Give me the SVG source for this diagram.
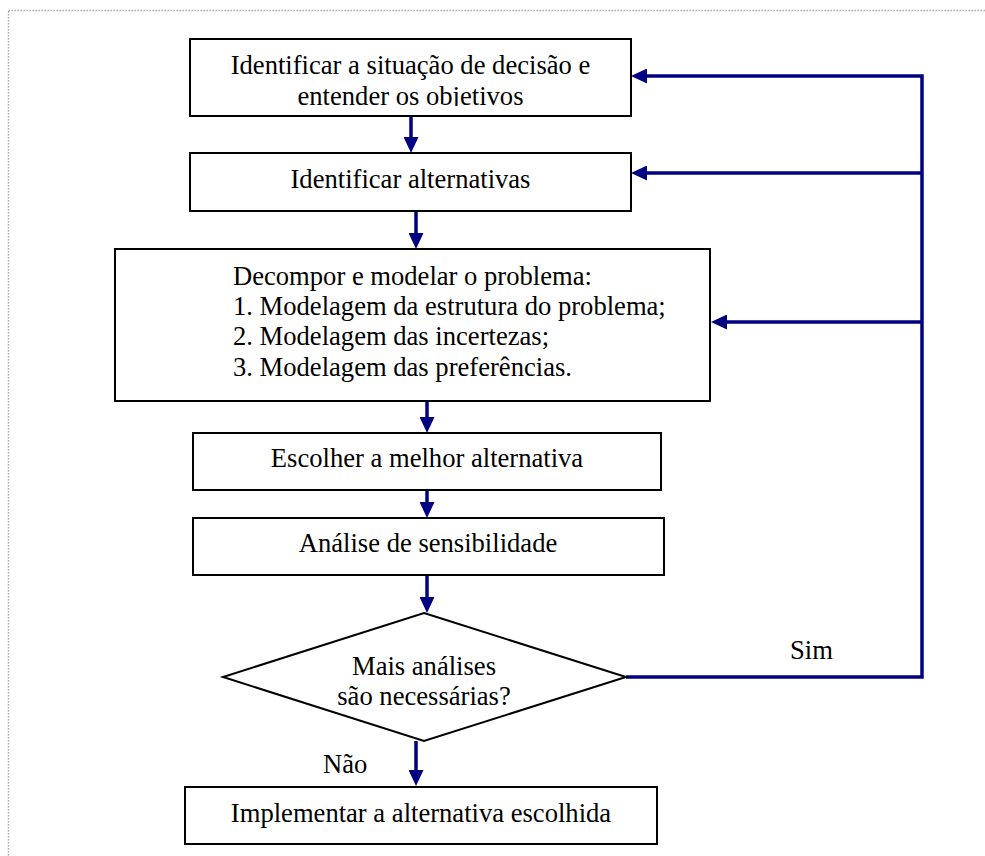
<svg xmlns="http://www.w3.org/2000/svg" width="985" height="856" viewBox="0 0 985 856">
  <style>
    .box { fill: #ffffff; stroke: #000000; stroke-width: 2; }
    .lbl { font-family: "Liberation Serif", "Times New Roman", serif; font-size: 26.6px; fill: #000000; }
    .mid { text-anchor: middle; }
    .conn { fill: none; stroke: #000080; stroke-width: 3.5; stroke-linejoin: miter; }
    .frame { fill: none; stroke: #999999; stroke-width: 1.5; stroke-dasharray: 1.3 1.7; }
  </style>
  <defs>
    <marker id="arrow" markerUnits="userSpaceOnUse" markerWidth="16" markerHeight="15" refX="6" refY="7.5" orient="auto">
      <path d="M0,0 L16,7.5 L0,15 Z" fill="#000080"/>
    </marker>
    <clipPath id="clip-first">
      <rect x="190" y="39" width="441" height="67"/>
    </clipPath>
  </defs>

  <rect width="985" height="856" fill="#ffffff"/>
  <!-- dotted page frame -->
  <rect class="frame" x="8.5" y="10.5" width="1000" height="900"/>

  <g id="connectors">
    <line class="conn" x1="411" y1="116" x2="411" y2="143" marker-end="url(#arrow)"/>
    <line class="conn" x1="416" y1="211" x2="416" y2="239" marker-end="url(#arrow)"/>
    <line class="conn" x1="427" y1="401" x2="427" y2="423" marker-end="url(#arrow)"/>
    <line class="conn" x1="427" y1="490" x2="427" y2="508" marker-end="url(#arrow)"/>
    <line class="conn" x1="427" y1="575" x2="427" y2="603" marker-end="url(#arrow)"/>
    <line class="conn" x1="416" y1="741" x2="416" y2="776" marker-end="url(#arrow)"/>
    <!-- "Sim" feedback loop -->
    <path class="conn" d="M626,677 H922 V76 H641" marker-end="url(#arrow)"/>
    <line class="conn" x1="922" y1="173" x2="641" y2="173" marker-end="url(#arrow)"/>
    <line class="conn" x1="922" y1="322" x2="721" y2="322" marker-end="url(#arrow)"/>
  </g>

  <g id="node-identificar-situacao">
    <rect class="box" x="190" y="39" width="441" height="77"/>
    <g clip-path="url(#clip-first)">
      <text class="lbl mid" x="410.5" y="74.3">Identificar a situação de decisão e</text>
      <text class="lbl mid" x="410.5" y="104.5">entender os objetivos</text>
    </g>
  </g>

  <g id="node-identificar-alternativas">
    <rect class="box" x="190" y="153" width="441" height="58"/>
    <text class="lbl mid" x="410.5" y="188.3">Identificar alternativas</text>
  </g>

  <g id="node-decompor">
    <rect class="box" x="115" y="249" width="595" height="152"/>
    <text class="lbl" x="233" y="285">Decompor e modelar o problema:</text>
    <text class="lbl" x="233" y="315.2">1. Modelagem da estrutura do problema;</text>
    <text class="lbl" x="233" y="345.4">2. Modelagem das incertezas;</text>
    <text class="lbl" x="233" y="375.6">3. Modelagem das preferências.</text>
  </g>

  <g id="node-escolher">
    <rect class="box" x="193" y="433" width="468" height="57"/>
    <text class="lbl mid" x="427" y="466.7">Escolher a melhor alternativa</text>
  </g>

  <g id="node-sensibilidade">
    <rect class="box" x="193" y="518" width="471" height="57"/>
    <text class="lbl mid" x="428" y="551.7">Análise de sensibilidade</text>
  </g>

  <g id="node-decisao">
    <polygon class="box" points="424,613 626,677 424,741 223,677"/>
    <text class="lbl mid" x="424" y="675">Mais análises</text>
    <text class="lbl mid" x="424" y="705">são necessárias?</text>
  </g>

  <g id="labels">
    <text class="lbl" x="790" y="659.3">Sim</text>
    <text class="lbl" x="323" y="773.3">Não</text>
  </g>

  <g id="node-implementar">
    <rect class="box" x="185" y="787" width="472" height="57"/>
    <text class="lbl mid" x="421" y="821.7">Implementar a alternativa escolhida</text>
  </g>
</svg>
